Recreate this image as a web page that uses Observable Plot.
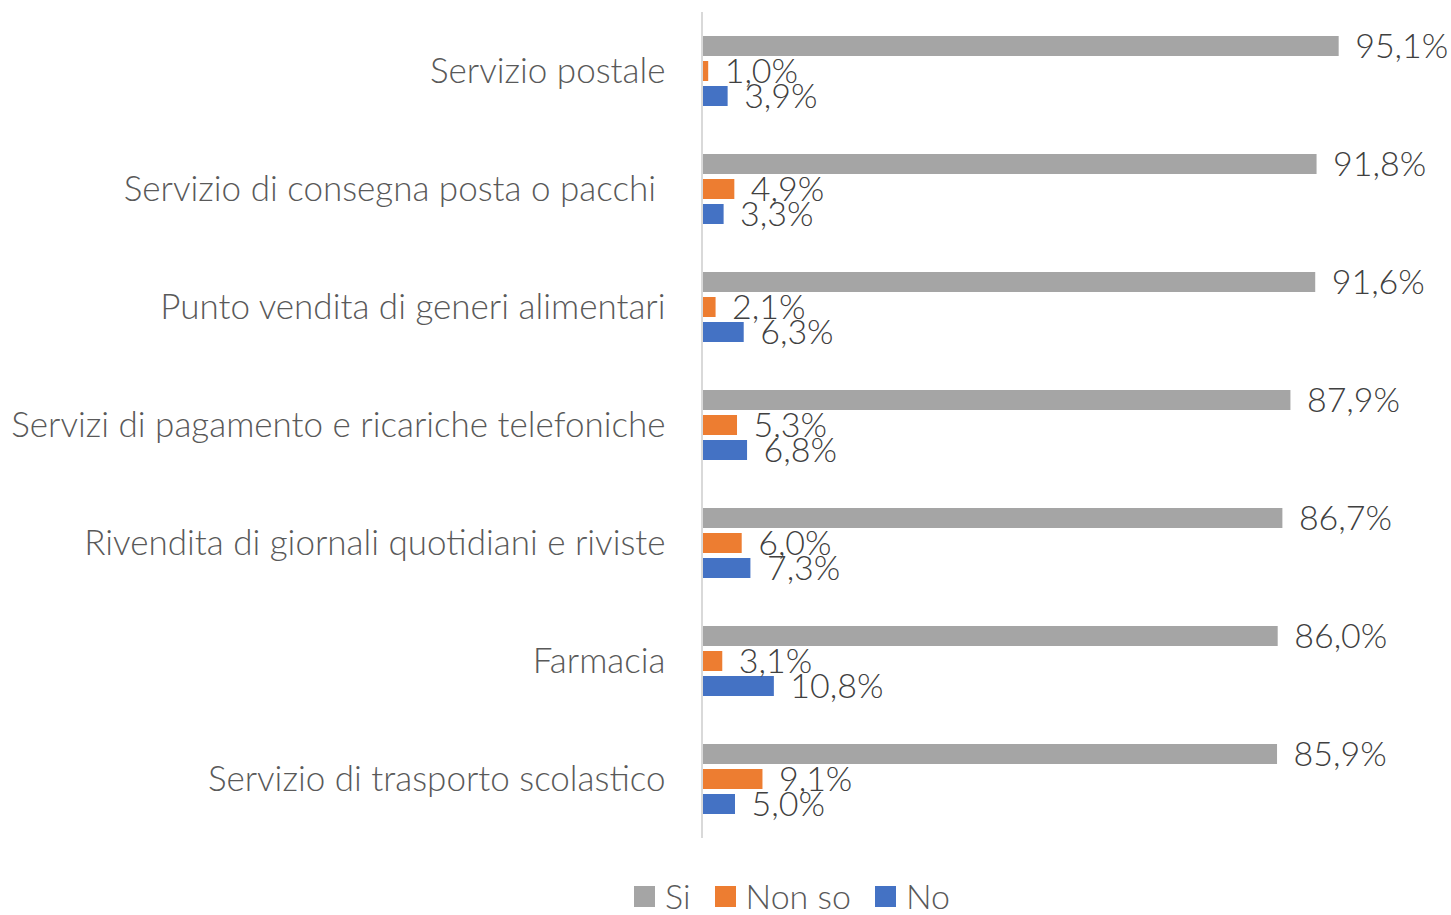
<!DOCTYPE html>
<html>
<head>
<meta charset="utf-8">
<script src="https://cdn.jsdelivr.net/npm/d3@7"></script>
<script src="https://cdn.jsdelivr.net/npm/@observablehq/plot@0.6"></script>
<style>
  html, body { margin: 0; padding: 0; background: #fff; }
  body { width: 1451px; height: 915px; position: relative; overflow: hidden; font-family: Lato, "Open Sans", sans-serif; }
  svg text { white-space: pre; }
  #legend { position: absolute; left: 634px; top: 879px; display: flex; align-items: center; font-size: 34px; color: #595959; font-weight: 300; line-height: 34px; height: 34px; }
  #legend .item { display: flex; align-items: center; margin-right: 24px; }
  #legend .sw { width: 21px; height: 21px; margin-right: 10px; }
</style>
</head>
<body>
<div id="chart"></div>
<div id="legend"></div>
<script>
const categories = [
  "Servizio postale",
  "Servizio di consegna posta o pacchi ",
  "Punto vendita di generi alimentari",
  "Servizi di pagamento e ricariche telefoniche",
  "Rivendita di giornali quotidiani e riviste",
  "Farmacia",
  "Servizio di trasporto scolastico"
];
const seriesNames = ["Si", "Non so", "No"];
const seriesColors = ["#A5A5A5", "#ED7D31", "#4472C4"];
const si =    [95.1, 91.8, 91.6, 87.9, 86.7, 86.0, 85.9];
const nonSo = [1.0, 4.9, 2.1, 5.3, 6.0, 3.1, 9.1];
const no =    [3.9, 3.3, 6.3, 6.8, 7.3, 10.8, 5.0];

const seriesValues = [si, nonSo, no];
const data = [];
categories.forEach((c, i) => {
  seriesNames.forEach((s, j) => {
    data.push({category: c, series: s, value: seriesValues[j][i]});
  });
});
const fmt = v => v.toFixed(1).replace(".", ",") + "%";

const chart = Plot.plot({
  width: 1451,
  height: 870,
  marginTop: 12,
  marginBottom: 32,
  marginLeft: 701,
  marginRight: 0,
  style: { fontFamily: "Lato, 'Open Sans', sans-serif", fontWeight: 300, background: "#fff", overflow: "visible" },
  x: { domain: [0, 100], range: [701.5, 1371.5], axis: null },
  y: { domain: seriesNames, paddingInner: 0.19, paddingOuter: 0.925, axis: null },
  fy: { domain: categories, padding: 0, axis: null },
  color: { domain: seriesNames, range: seriesColors },
  marks: [
    Plot.barX(data, { x: "value", y: "series", fy: "category", fill: "series" }),
    Plot.ruleX([0], { stroke: "#D9D9D9", strokeWidth: 2 }),
    Plot.text(data, { x: "value", y: "series", fy: "category", text: d => fmt(d.value), dx: 16, dy: 1, textAnchor: "start", fontSize: 34, fill: "#404040" }),
    Plot.axisFy({ anchor: "left", tickSize: 0, tickPadding: 36, fontSize: 35, fill: "#595959", label: null })
  ]
});
document.getElementById("chart").appendChild(chart);

const legend = document.getElementById("legend");
seriesNames.forEach((s, j) => {
  const item = document.createElement("div");
  item.className = "item";
  const sw = document.createElement("div");
  sw.className = "sw";
  sw.style.background = seriesColors[j];
  const t = document.createElement("span");
  t.textContent = s;
  item.appendChild(sw);
  item.appendChild(t);
  legend.appendChild(item);
});
</script>
</body>
</html>
